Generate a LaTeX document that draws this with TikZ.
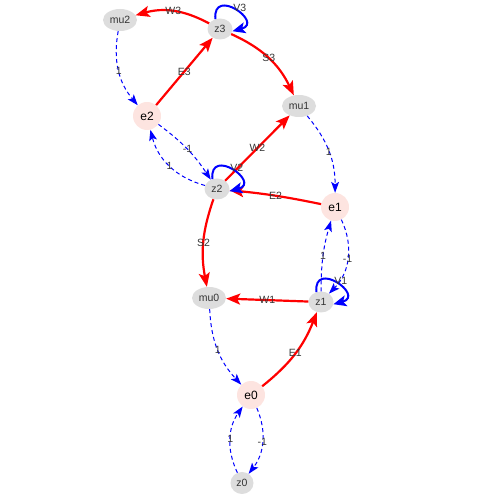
\documentclass[tikz,border=0pt]{standalone}
\usepackage{fontspec}
\setmainfont{Liberation Sans}
\usetikzlibrary{arrows.meta,shapes.geometric}
\definecolor{ngray}{RGB}{221,221,221}
\definecolor{npink}{RGB}{253,228,224}
\definecolor{txtc}{RGB}{52,52,52}
\definecolor{lblc}{RGB}{55,55,55}
\begin{document}
\begin{tikzpicture}[x=1pt,y=1pt,
  munode/.style={ellipse, fill=ngray, inner sep=0pt, minimum width=34pt, minimum height=22pt, text=txtc, font=\fontsize{10.5}{12}\selectfont},
  znode/.style={ellipse, fill=ngray, inner sep=0pt, minimum width=25pt, minimum height=21pt, text=txtc, font=\fontsize{10.5}{12}\selectfont},
  enode/.style={circle, fill=npink, inner sep=0pt, minimum size=28pt, text=black, font=\fontsize{12}{14}\selectfont},
  lbl/.style={text=lblc, font=\fontsize{10.5}{12}\selectfont, inner sep=1pt},
  redge/.style={draw=red, line width=2.2pt, -{Stealth[length=14pt,width=11pt,inset=3pt]}},
  bedge/.style={draw=blue, line width=1pt, dash pattern=on 4pt off 3pt, -{Stealth[length=11pt,width=8pt,inset=2.5pt,line width=0pt]}},
  vloop/.style={draw=blue, line width=2pt, -{Stealth[length=13pt,width=11pt,inset=3pt]}}
]
\useasboundingbox (0,0) rectangle (500,500);
\node[munode] (mu2) at (120,480) {mu2};
\node[znode] (z3) at (220,471) {z3};
\node[enode] (e2) at (147,384) {e2};
\node[munode] (mu1) at (299,394) {mu1};
\node[znode] (z2) at (217,311) {z2};
\node[enode] (e1) at (335,293) {e1};
\node[munode] (mu0) at (209,202) {mu0};
\node[znode] (z1) at (321,198) {z1};
\node[enode] (e0) at (251,105) {e0};
\node[znode, minimum width=23pt, minimum height=22pt] (z0) at (242,17) {z0};

% red edges
\draw[redge] (z3) to[bend right=22] node[lbl] {W3} (mu2);
\draw[redge] (z3) to[bend left=20] node[lbl] {S3} (mu1);
\draw[redge] (e2) to node[lbl] {E3} (z3);
\draw[redge] (z2) to node[lbl] {W2} (mu1);
\draw[redge] (e1) to[bend right=3] node[lbl] {E2} (z2);
\draw[redge] (z2) to[bend right=15] node[lbl] {S2} (mu0);
\draw[redge] (z1) to node[lbl] {W1} (mu0);
\draw[redge] (e0) to[bend right=15] node[lbl] {E1} (z1);

% blue dashed edges
\draw[bedge] (mu2) to[bend right=25] node[lbl] {1} (e2);
\draw[bedge] (e2) to[bend left=10] node[lbl] {-1} (z2);
\draw[bedge] (z2) to[bend left=30] node[lbl] {1} (e2);
\draw[bedge] (mu1) to[bend left=20] node[lbl] {1} (e1);
\draw[bedge] (e1) to[bend left=35] node[lbl] {-1} (z1);
\draw[bedge] (z1) to[bend left=8] node[lbl] {1} (e1);
\draw[bedge] (mu0) to[bend right=20] node[lbl] {1} (e0);
\draw[bedge] (e0) to[bend left=30] node[lbl] {-1} (z0);
\draw[bedge] (z0) to[bend left=30] node[lbl] {1} (e0);

% self loops
\draw[vloop] (z3.115) .. controls +(95:33) and +(15:33) .. node[lbl, pos=0.5, xshift=5pt, yshift=2pt] {V3} (z3.-10);
\draw[vloop] (z2.115) .. controls +(95:33) and +(15:33) .. node[lbl, pos=0.5, xshift=5pt, yshift=2pt] {V2} (z2.-10);
\draw[vloop] (z1.115) .. controls +(95:33) and +(15:33) .. node[lbl, pos=0.5, xshift=5pt, yshift=2pt] {V1} (z1.-10);
\end{tikzpicture}
\end{document}
